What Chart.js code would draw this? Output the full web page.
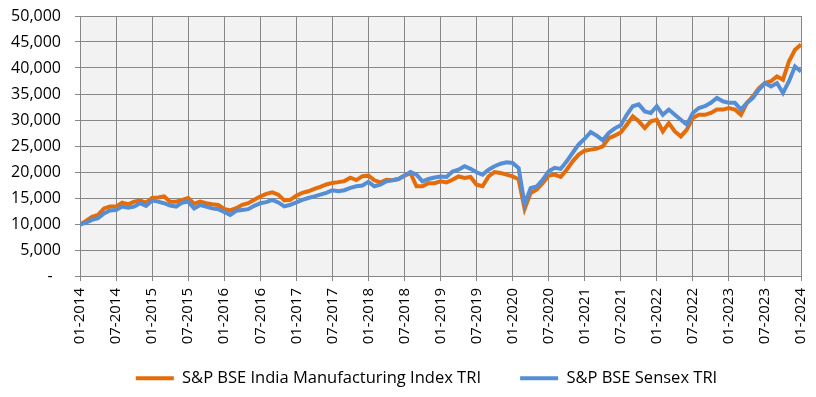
<!DOCTYPE html>
<html>
<head>
<meta charset="utf-8">
<script src="https://cdn.jsdelivr.net/npm/chart.js@4.4.1/dist/chart.umd.min.js"></script>
<style>
  body { margin: 0; background: #fff; }
</style>
</head>
<body>
<canvas id="myChart" width="816" height="397"></canvas>
<script>
// half-year tick labels on the x axis (one per 6 months)
const tickLabels = ['01-2014', '07-2014', '01-2015', '07-2015', '01-2016', '07-2016', '01-2017',
    '07-2017', '01-2018', '07-2018', '01-2019', '07-2019', '01-2020', '07-2020', '01-2021',
    '07-2021', '01-2022', '07-2022', '01-2023', '07-2023', '01-2024'];

const seriesNames = ['S&P BSE India Manufacturing Index TRI', 'S&P BSE Sensex TRI'];

// monthly values, 01-2014 .. 01-2024
const manufacturing = [
    9900, 10600, 11400, 11750, 13000, 13350, 13350, 14100, 13800, 14300, 14500, 14100,
    15000, 15100, 15300, 14300, 14300, 14650, 15000, 13900, 14300, 14000, 13800, 13650,
    12900, 12600, 13050, 13700, 14000, 14650, 15300, 15800, 16100, 15650, 14550, 14650,
    15450, 16000, 16300, 16750, 17150, 17600, 17900, 18050, 18250, 18900, 18450, 19200,
    19300, 18400, 18000, 18500, 18400, 18650, 19300, 19800, 17250, 17250, 17850, 17850,
    18200, 18000, 18500, 19150, 18850, 19050, 17550, 17250, 19150, 20000, 19800, 19500,
    19150, 18600, 12900, 15950, 16600, 17850, 19300, 19500, 19050, 20450, 22050, 23350,
    24100, 24300, 24500, 24950, 26500, 27000, 27600, 29100, 30700, 29750, 28450, 29750,
    30050, 27800, 29400, 27800, 26850, 28150, 30400, 31000, 31000, 31350, 32000, 32000,
    32300, 32000, 31000, 33300, 34550, 36150, 37100, 37450, 38400, 37750, 41300, 43500,
    44500
];
const sensex = [
    9900, 10250, 10800, 11100, 12050, 12600, 12700, 13350, 13150, 13350, 14000, 13500,
    14500, 14300, 14000, 13550, 13350, 14100, 14300, 13000, 13650, 13350, 13000, 12850,
    12300, 11750, 12550, 12700, 12850, 13500, 14000, 14200, 14650, 14150, 13400, 13700,
    14150, 14650, 15000, 15300, 15650, 16000, 16500, 16300, 16500, 16950, 17250, 17400,
    18100, 17250, 17550, 18200, 18400, 18650, 19300, 20000, 19500, 18200, 18650, 18950,
    19150, 19050, 20100, 20450, 21100, 20600, 19950, 19500, 20450, 21100, 21600, 21850,
    21750, 20750, 13800, 16900, 17200, 18500, 20150, 20800, 20600, 22050, 23700, 25300,
    26400, 27700, 27000, 26100, 27500, 28400, 29000, 31000, 32650, 33000, 31650, 31350,
    32650, 31000, 32000, 31000, 30050, 29100, 31350, 32300, 32650, 33300, 34250, 33600,
    33300, 33300, 32000, 33300, 34250, 35850, 37100, 36450, 37100, 35200, 37450, 40300,
    39350
];

function toPoints(values) {
    return values.map((v, i) => ({ x: i, y: v }));
}

// grey plot background like the excel chart
const plotBg = {
    id: 'plotBg',
    beforeDraw(chart) {
        const a = chart.chartArea;
        const ctx = chart.ctx;
        ctx.save();
        ctx.fillStyle = '#f2f2f2';
        ctx.fillRect(a.left, a.top, a.right - a.left, a.bottom - a.top);
        ctx.restore();
    }
};

// fixed legend height, and nudge it right a bit
const legendFit = {
    id: 'legendFit',
    beforeLayout(chart) {
        const legend = chart.legend;
        if (!legend || legend._patched) return;
        const fit = legend.fit;
        legend.fit = function () {
            fit.call(this);
            this.height = 49;
        };
        const draw = legend.draw;
        legend.draw = function () {
            this.ctx.save();
            this.ctx.translate(26, 0);
            draw.call(this);
            this.ctx.restore();
        };
        legend._patched = true;
    }
};

const gridColor = '#878787';
const ctx = document.getElementById('myChart').getContext('2d');
const myChart = new Chart(ctx, {
    type: 'line',
    data: {
        datasets: [{
            label: seriesNames[0] + '    ',
            data: toPoints(manufacturing),
            borderColor: '#e46c0a',
            backgroundColor: '#e46c0a',
            borderWidth: 4,
            pointRadius: 0,
            order: 1
        }, {
            label: seriesNames[1],
            data: toPoints(sensex),
            borderColor: '#558ed5',
            backgroundColor: '#558ed5',
            borderWidth: 4,
            pointRadius: 0,
            order: 0
        }]
    },
    options: {
        responsive: false,
        animation: false,
        events: [],
        layout: { padding: { left: 0, right: 15, top: 16, bottom: 0 } },
        scales: {
            x: {
                type: 'linear',
                min: 0,
                max: 120,
                afterFit(scale) {
                    scale.height = 72;
                    scale.paddingLeft = 0;
                    scale.paddingRight = 0;
                },
                grid: { color: gridColor, tickLength: 5 },
                border: { color: gridColor },
                ticks: {
                    stepSize: 6,
                    autoSkip: false,
                    minRotation: 90,
                    maxRotation: 90,
                    padding: 7,
                    color: '#000',
                    font: { family: 'Open Sans', size: 15 },
                    callback: (v) => tickLabels[v / 6]
                }
            },
            y: {
                min: 0,
                max: 50000,
                afterFit(scale) {
                    scale.width = 80;
                    scale.paddingTop = 0;
                    scale.paddingBottom = 0;
                },
                grid: { color: gridColor, tickLength: 5 },
                border: { color: gridColor },
                ticks: {
                    stepSize: 5000,
                    padding: 14,
                    color: '#000',
                    font: { family: 'Open Sans', size: 16 },
                    callback: (v) => v === 0 ? '-  ' : v.toLocaleString('en-US')
                }
            }
        },
        plugins: {
            tooltip: { enabled: false },
            legend: {
                position: 'bottom',
                labels: {
                    usePointStyle: true,
                    pointStyle: 'line',
                    pointStyleWidth: 38,
                    padding: 22,
                    color: '#000',
                    font: { family: 'Open Sans', size: 16.5 },
                    sort: (a, b) => a.datasetIndex - b.datasetIndex
                }
            }
        }
    },
    plugins: [plotBg, legendFit]
});
</script>
</body>
</html>
